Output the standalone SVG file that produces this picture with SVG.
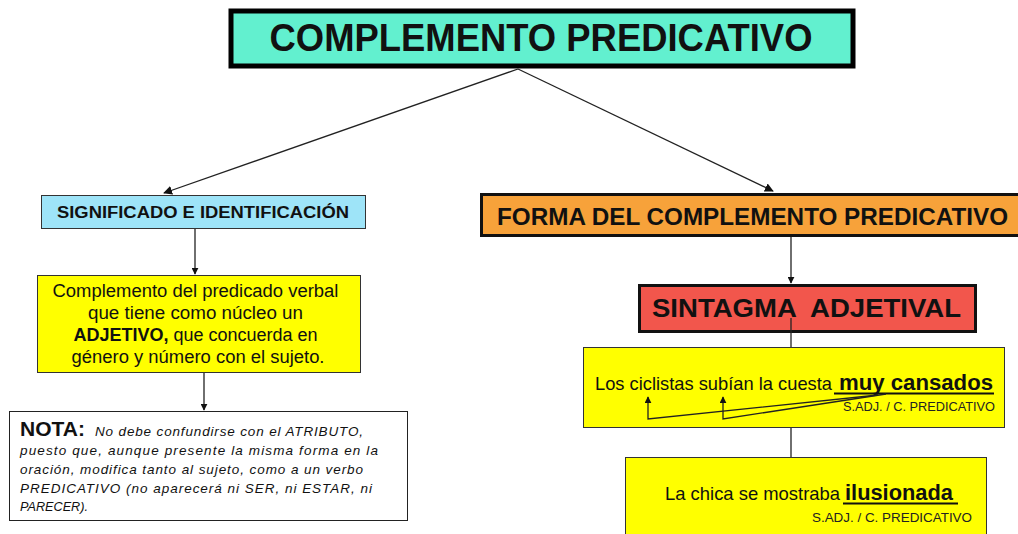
<svg xmlns="http://www.w3.org/2000/svg" width="1018" height="534" viewBox="0 0 1018 534">
<style>
.t{font-family:"Liberation Sans",Arial,sans-serif;fill:#111}
.b{font-weight:bold}
.ln{stroke:#222;stroke-width:1.3;fill:none}
.sm{font-size:13px;fill:#222}
</style>
<defs>
<marker id="ah" viewBox="0 0 10 10" refX="9" refY="5" markerWidth="7" markerHeight="7" markerUnits="userSpaceOnUse" orient="auto">
<path d="M0,0 L10,5 L0,10 z" fill="#111"/>
</marker>
<marker id="ah2" viewBox="0 0 10 10" refX="9" refY="5" markerWidth="9" markerHeight="9" markerUnits="userSpaceOnUse" orient="auto">
<path d="M0,0 L10,5 L0,10 z" fill="#111"/>
</marker>
</defs>
<rect width="1018" height="534" fill="#fff"/>

<g id="connectors">
<line class="ln" x1="518" y1="69" x2="164" y2="193" marker-end="url(#ah2)"/>
<line class="ln" x1="518" y1="69" x2="773" y2="191" marker-end="url(#ah2)"/>
<line class="ln" x1="195" y1="229" x2="195" y2="274" marker-end="url(#ah)"/>
<line class="ln" x1="204" y1="373" x2="204" y2="410" marker-end="url(#ah)"/>
<line class="ln" x1="791" y1="232" x2="791" y2="283" marker-end="url(#ah)"/>
<line class="ln" x1="791" y1="428" x2="791" y2="457"/>
</g>

<g id="title">
<rect x="231" y="11" width="622" height="55" fill="#62f0cf" stroke="#000" stroke-width="5"/>
<text class="t b" x="541" y="51" text-anchor="middle" font-size="38" textLength="543" lengthAdjust="spacingAndGlyphs">COMPLEMENTO PREDICATIVO</text>
</g>

<g id="significado">
<rect x="41.5" y="195.5" width="324" height="33" fill="#9ee4f8" stroke="#333" stroke-width="1"/>
<text class="t b" x="203" y="218" text-anchor="middle" font-size="16" textLength="292" lengthAdjust="spacingAndGlyphs">SIGNIFICADO E IDENTIFICACIÓN</text>
</g>

<g id="definicion">
<rect x="37.5" y="275.5" width="323" height="97" fill="#ffff00" stroke="#333" stroke-width="1"/>
<text class="t" font-size="18" text-anchor="middle">
<tspan x="198" y="297" textLength="286" lengthAdjust="spacingAndGlyphs">Complemento del predicado verbal</tspan>
<tspan x="198" y="319" textLength="215" lengthAdjust="spacingAndGlyphs">que tiene como núcleo un</tspan>
<tspan x="198" y="341"><tspan class="b">ADJETIVO,</tspan> que concuerda en</tspan>
<tspan x="198" y="363" textLength="253" lengthAdjust="spacingAndGlyphs">género y número con el sujeto.</tspan>
</text>
</g>

<g id="nota">
<rect x="9.5" y="411.5" width="398" height="109" fill="#fff" stroke="#222" stroke-width="1"/>
<text class="t b" x="20" y="436" font-size="21">NOTA:</text>
<text class="t" font-size="13.5" font-style="italic" fill="#222">
<tspan x="95" y="436" textLength="268" lengthAdjust="spacing">No debe confundirse con el ATRIBUTO,</tspan>
<tspan x="20" y="455" textLength="358" lengthAdjust="spacing">puesto que, aunque presente la misma forma en la</tspan>
<tspan x="20" y="474" textLength="343" lengthAdjust="spacing">oración, modifica tanto al sujeto, como a un verbo</tspan>
<tspan x="20" y="493" textLength="352" lengthAdjust="spacing">PREDICATIVO (no aparecerá ni SER, ni ESTAR, ni</tspan>
<tspan x="20" y="511" textLength="68" lengthAdjust="spacingAndGlyphs">PARECER).</tspan>
</text>
</g>

<g id="forma">
<rect x="481.5" y="194.5" width="540" height="41" fill="#f7a23a" stroke="#111" stroke-width="3"/>
<text class="t b" x="497" y="225" font-size="23" textLength="511" lengthAdjust="spacingAndGlyphs">FORMA DEL COMPLEMENTO PREDICATIVO</text>
</g>

<g id="sintagma">
<rect x="639.5" y="285.5" width="336" height="46" fill="#f2564c" stroke="#111" stroke-width="3"/>
<text class="t b" x="652" y="317" font-size="26" textLength="309" lengthAdjust="spacingAndGlyphs" xml:space="preserve">SINTAGMA  ADJETIVAL</text>
<line class="ln" x1="791" y1="318" x2="791" y2="347"/>
</g>

<g id="ejemplo1">
<rect x="583.5" y="347.5" width="421" height="80" fill="#ffff00" stroke="#333" stroke-width="1"/>
<text class="t" x="595" y="390" font-size="18.5" textLength="237" lengthAdjust="spacingAndGlyphs">Los ciclistas subían la cuesta</text>
<text class="t b" x="839" y="390" font-size="22" textLength="154" lengthAdjust="spacingAndGlyphs">muy cansados</text>
<line x1="834" y1="393.5" x2="994" y2="393.5" stroke="#111" stroke-width="2"/>
<text class="t sm" x="995" y="411" text-anchor="end" textLength="152" lengthAdjust="spacingAndGlyphs">S.ADJ. / C. PREDICATIVO</text>
<polyline class="ln" points="878,395 648,419 648,397" marker-end="url(#ah)"/>
<polyline class="ln" points="886,394 723,419 723,397" marker-end="url(#ah)"/>
</g>

<g id="ejemplo2">
<rect x="625.5" y="457.5" width="361" height="90" fill="#ffff00" stroke="#333" stroke-width="1"/>
<text class="t" x="665" y="500" font-size="18.5" textLength="175" lengthAdjust="spacingAndGlyphs">La chica se mostraba</text>
<text class="t b" x="845" y="500" font-size="22" textLength="108" lengthAdjust="spacingAndGlyphs">ilusionada</text>
<line x1="843" y1="503.5" x2="958" y2="503.5" stroke="#111" stroke-width="2"/>
<text class="t sm" x="972" y="522" text-anchor="end" textLength="160" lengthAdjust="spacingAndGlyphs">S.ADJ. / C. PREDICATIVO</text>
</g>
</svg>
